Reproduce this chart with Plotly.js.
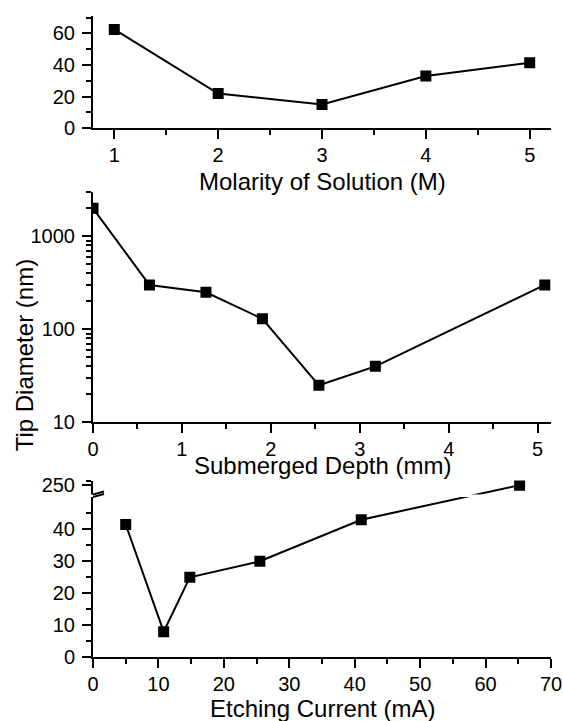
<!DOCTYPE html>
<html>
<head>
<meta charset="utf-8">
<script src="https://cdn.plot.ly/plotly-3.0.1.min.js"></script>
<style>html,body{margin:0;padding:0;background:#fff;}#chart{width:563px;height:721px;}</style>
</head>
<body>
<div id="chart"></div>
<script>
// ---- Data ----
const molarity = [1, 2, 3, 4, 5];
const diameterMolarity = [62.5, 22, 15, 33, 41.5];

const depth = [0, 0.635, 1.27, 1.905, 2.54, 3.175, 5.08];
const diameterDepth = [2000, 300, 250, 130, 25, 40, 300];

const current = [5, 10.8, 14.8, 25.5, 41, 65.2];
const diameterCurrent = [41.5, 8, 25, 30, 43, 250];

const xTitles = ["Molarity of Solution (M)", "Submerged Depth (mm)", "Etching Current (mA)"];
const yTitle = "Tip Diameter (nm)";

// ---- broken axis mapping for the etching-current panel ----
const BREAK_AT = 50;          // lower segment ends here
const UPPER_VALUE = 250;      // value shown on upper segment
const UPPER_POS = 53.8;       // where that value sits on the axis
const UPPER_SCALE = 0.1;
function brk(v) { return v <= BREAK_AT ? v : UPPER_POS + (v - UPPER_VALUE) * UPPER_SCALE; }

const FONT = "Arial, 'Liberation Sans', sans-serif";
const tickFont = {family: FONT, size: 20, color: "#000"};
const titleFont = {family: FONT, size: 24, color: "#000"};

const lineStyle = {color: "#000", width: 2};
const markerStyle = {symbol: "square", size: 11, color: "#000"};

const traces = [
  {x: molarity, y: diameterMolarity, xaxis: "x", yaxis: "y", mode: "lines+markers", line: lineStyle, marker: markerStyle},
  {x: depth, y: diameterDepth, xaxis: "x2", yaxis: "y2", mode: "lines+markers", line: lineStyle, marker: markerStyle},
  {x: current, y: diameterCurrent.map(brk), xaxis: "x3", yaxis: "y3", mode: "lines+markers", line: lineStyle, marker: markerStyle}
];

const H = 721;
function dom(topPx, botPx) { return [1 - botPx / H, 1 - topPx / H]; }

const common = {
  showline: true, linecolor: "#000", linewidth: 2,
  ticks: "outside", ticklen: 9, tickwidth: 2, tickcolor: "#000",
  showgrid: false, zeroline: false, tickfont: tickFont, fixedrange: true
};
const yCommon = Object.assign({}, common, {ticklabelstandoff: 3});
const xCommon = Object.assign({}, common, {ticklabelstandoff: -1});
function minor(vals) { return {tickmode: "array", tickvals: vals, ticks: "outside", ticklen: 5, tickwidth: 2, tickcolor: "#000", showgrid: false}; }

const layout = {
  width: 563, height: 721,
  margin: {l: 92.7, r: 12, t: 0, b: 0, pad: 0},
  paper_bgcolor: "#fff", plot_bgcolor: "#fff",
  showlegend: false,
  font: {family: FONT, color: "#000"},
  xaxis: Object.assign({}, xCommon, {domain: [0, 1], anchor: "y", range: [0.795, 5.205],
    tickmode: "array", tickvals: [1, 2, 3, 4, 5], minor: minor([1.5, 2.5, 3.5, 4.5])}),
  yaxis: Object.assign({}, yCommon, {domain: dom(16, 128.3), anchor: "x", range: [0, 71],
    tickmode: "array", tickvals: [0, 20, 40, 60], minor: minor([10, 30, 50, 70])}),
  xaxis2: Object.assign({}, xCommon, {domain: [0, 1], anchor: "y2", range: [0, 5.15],
    tickmode: "array", tickvals: [0, 1, 2, 3, 4, 5], minor: minor([0.5, 1.5, 2.5, 3.5, 4.5])}),
  yaxis2: Object.assign({}, yCommon, {domain: dom(192, 422.3), anchor: "x2", type: "log", range: [1, Math.log10(3000)],
    tickmode: "array", tickvals: [10, 100, 1000], ticktext: ["10", "100", "1000"],
    minor: minor([20, 30, 40, 50, 60, 70, 80, 90, 200, 300, 400, 500, 600, 700, 800, 900, 2000, 3000])}),
  xaxis3: Object.assign({}, xCommon, {domain: [0, 1], anchor: "y3", range: [0, 70],
    tickmode: "array", tickvals: [0, 10, 20, 30, 40, 50, 60, 70], minor: minor([5, 15, 25, 35, 45, 55, 65])}),
  yaxis3: Object.assign({}, yCommon, {domain: dom(480.5, 657.3), anchor: "x3", range: [0, 55.25],
    tickmode: "array", tickvals: [0, 10, 20, 30, 40, brk(250)], ticktext: ["0", "10", "20", "30", "40", "250"],
    minor: minor([5, 15, 25, 35, 45, brk(262.5)])}),
  annotations: [
    {text: xTitles[0], xref: "paper", yref: "paper", x: 0.5, y: 1 - 181 / H, xanchor: "center", yanchor: "middle", showarrow: false, font: titleFont},
    {text: xTitles[1], xref: "paper", yref: "paper", x: 0.5, y: 1 - 465 / H, xanchor: "center", yanchor: "middle", showarrow: false, font: titleFont},
    {text: xTitles[2], xref: "paper", yref: "paper", x: 0.5, y: 1 - 708.5 / H, xanchor: "center", yanchor: "middle", showarrow: false, font: titleFont},
    {text: yTitle, xref: "paper", yref: "paper", x: (24 - 92.7) / (551 - 92.7), y: 1 - 355 / H, xanchor: "center", yanchor: "middle", textangle: -90, showarrow: false, font: titleFont}
  ],
  shapes: [
    // white gap of the axis break
    {type: "rect", xref: "paper", yref: "y3", x0: -0.01, x1: 1, y0: BREAK_AT + 0.1, y1: BREAK_AT + 0.9, fillcolor: "#fff", line: {width: 0}, layer: "above"},
    // two slashes marking the break
    {type: "line", xref: "x3", yref: "y3", xsizemode: "pixel", ysizemode: "pixel", xanchor: 0, yanchor: BREAK_AT + 0.1, x0: -11, x1: 11, y0: -3, y1: 3, line: {color: "#000", width: 2}, layer: "above"},
    {type: "line", xref: "x3", yref: "y3", xsizemode: "pixel", ysizemode: "pixel", xanchor: 0, yanchor: BREAK_AT + 0.9, x0: -11, x1: 11, y0: -3, y1: 3, line: {color: "#000", width: 2}, layer: "above"}
  ]
};

Plotly.newPlot("chart", traces, layout, {displayModeBar: false, staticPlot: true});
</script>
</body>
</html>
